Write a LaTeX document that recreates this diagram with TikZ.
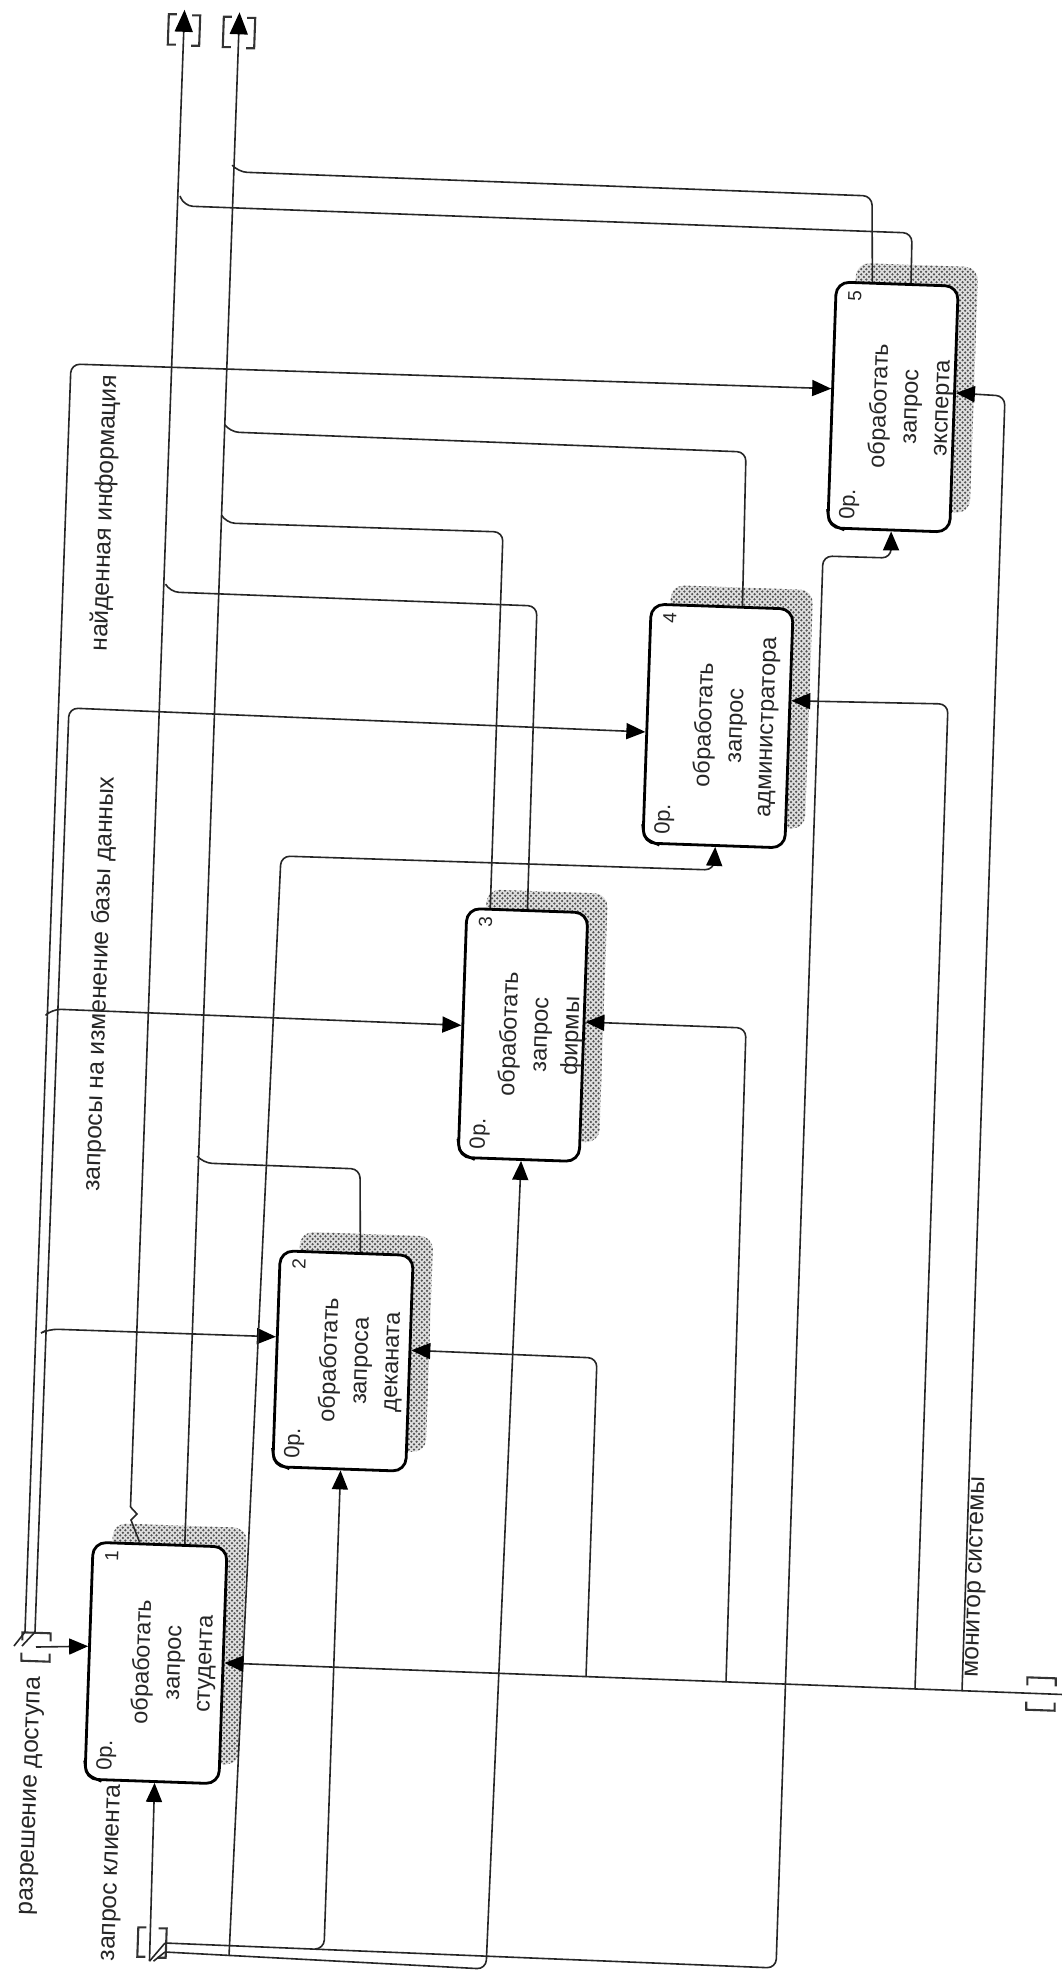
\documentclass[tikz,border=0pt]{standalone}
\usepackage{fontspec}
\setmainfont{Liberation Sans}
\usetikzlibrary{arrows.meta,calc,patterns}
\pgfdeclarepatternformonly{shadowdots}{\pgfqpoint{-1pt}{-1pt}}{\pgfqpoint{6pt}{6pt}}{\pgfqpoint{5.2pt}{5.2pt}}{%
  \pgfpathcircle{\pgfqpoint{0.6pt}{0.6pt}}{1.25pt}
  \pgfpathcircle{\pgfqpoint{3.2pt}{3.2pt}}{1.25pt}
  \pgfusepath{fill}
}
\newcommand{\proc}[7]{% name,cx,cy,h,w,num,text
  \node[shadowbox,minimum width=#4pt,minimum height=#5pt] (s#1) at (#2+20,#3-19) {};
  \node[procbox,minimum width=#4pt,minimum height=#5pt] (#1) at (#2,#3) {};
  \node[boxtext] (t#1) at (#2+18,#3) {#7};
  \node[numtext] (n#1) at ($(#1.north east)+(20,15)$) {#6};
  \node[optext] (o#1) at ($(#1.north west)+(23,-25)$) {0р.};
  \draw[cornerarc] ($(#1.north west)+(1,-20)$) .. controls ($(#1.north west)+(3,-6)$) .. ($(#1.north west)+(18,1)$);
}
\newcommand{\bracketsV}[1]{%
  \draw[tunnelline] ($(#1.north west)+(8,0)$) -- (#1.north west) -- (#1.south west) -- ($(#1.south west)+(8,0)$);
  \draw[tunnelline] ($(#1.north east)+(-8,0)$) -- (#1.north east) -- (#1.south east) -- ($(#1.south east)+(-8,0)$);
}
\newcommand{\bracketsH}[1]{%
  \draw[tunnelline] ($(#1.north west)+(0,8)$) -- (#1.north west) -- (#1.north east) -- ($(#1.north east)+(0,8)$);
  \draw[tunnelline] ($(#1.south west)+(0,-8)$) -- (#1.south west) -- (#1.south east) -- ($(#1.south east)+(0,-8)$);
}
\tikzset{
  procbox/.style={draw=black,line width=2.8pt,rounded corners=13pt,fill=white,rotate=88,inner sep=0pt},
  shadowbox/.style={rounded corners=13pt,rotate=88,inner sep=0pt,preaction={fill=gray!25},pattern=shadowdots,pattern color=black!68},
  boxtext/.style={rotate=88,align=center,font=\fontsize{23.5}{31}\selectfont,text=black!85,inner sep=0pt},
  numtext/.style={rotate=88,font=\fontsize{19}{19}\selectfont,text=black!85,inner sep=0pt},
  optext/.style={rotate=88,font=\fontsize{22}{22}\selectfont,text=black!85,inner sep=0pt},
  lbl/.style={rotate=88,font=\fontsize{24.6}{25}\selectfont,text=black!85,inner sep=0pt},
  cornerarc/.style={line width=2.4pt,black},
  conn/.style={line width=1.6pt,black!85,rounded corners=9pt},
  arr/.style={conn,-{Triangle[length=19pt,width=16pt,color=black]}},
  arrbig/.style={conn,-{Triangle[length=22pt,width=18pt,color=black]}},
  tunnelline/.style={line width=2.1pt,black!80},
  tun/.style={inner sep=0pt,rotate=-2},
}
\begin{document}
\begin{tikzpicture}[x=1pt,y=-1pt]
\useasboundingbox[fill=white] (0,0) rectangle (1062,1978);
% processes
\proc{b1}{156}{1663}{237}{134}{1}{обработать\\запрос\\студента}
\proc{b2}{343}{1361}{216}{133}{2}{обработать\\запроса\\деканата}
\proc{b3}{523}{1035}{249}{121}{3}{обработать\\запрос\\фирмы}
\proc{b4}{718}{726}{239}{142}{4}{обработать\\запрос\\администратора}
\proc{b5}{893}{407}{246}{122}{5}{обработать\\запрос\\эксперта}
% attachment points
\coordinate (b1l) at ($(b1.north east)!.44!(b1.north west)$);
\coordinate (b1r) at ($(b1.south east)!.49!(b1.south west)$);
\coordinate (b1b) at ($(b1.north west)!.52!(b1.south west)$);
\coordinate (b1t1) at ($(b1.north east)!.35!(b1.south east)$);
\coordinate (b1t2) at ($(b1.north east)!.68!(b1.south east)$);
\coordinate (b2l) at ($(b2.north east)!.40!(b2.north west)$);
\coordinate (b2r) at ($(b2.south east)!.44!(b2.south west)$);
\coordinate (b2b) at ($(b2.north west)!.51!(b2.south west)$);
\coordinate (b2t) at ($(b2.north east)!.60!(b2.south east)$);
\coordinate (b3l) at ($(b3.north east)!.47!(b3.north west)$);
\coordinate (b3r) at ($(b3.south east)!.44!(b3.south west)$);
\coordinate (b3b) at ($(b3.north west)!.52!(b3.south west)$);
\coordinate (b3t1) at ($(b3.north east)!.20!(b3.south east)$);
\coordinate (b3t2) at ($(b3.north east)!.50!(b3.south east)$);
\coordinate (b4l) at ($(b4.north east)!.535!(b4.north west)$);
\coordinate (b4r) at ($(b4.south east)!.385!(b4.south west)$);
\coordinate (b4b) at ($(b4.north west)!.51!(b4.south west)$);
\coordinate (b4t) at ($(b4.north east)!.64!(b4.south east)$);
\coordinate (b5l) at ($(b5.north east)!.435!(b5.north west)$);
\coordinate (b5r) at ($(b5.south east)!.435!(b5.south west)$);
\coordinate (b5b) at ($(b5.north west)!.52!(b5.south west)$);
\coordinate (b5t1) at ($(b5.north east)!.30!(b5.south east)$);
\coordinate (b5t2) at ($(b5.north east)!.61!(b5.south east)$);
% tunnels
\node[tun,minimum width=31pt,minimum height=30pt] (tA) at (184,30) {};
\node[tun,minimum width=31pt,minimum height=30pt] (tB) at (239,32.5) {};
\node[tun,minimum width=28pt,minimum height=28pt] (tL) at (36,1647) {};
\node[tun,minimum width=28pt,minimum height=29pt] (tC) at (152,1942.5) {};
\node[tun,minimum width=28pt,minimum height=32pt] (tR) at (1041,1694) {};
\bracketsV{tA}
\bracketsV{tB}
\bracketsH{tL}
\bracketsV{tC}
\bracketsH{tR}
% outputs
\coordinate (sqA) at (130.5,1507);
\draw[arrbig] (sqA) -- ($(tA.north)+(0,-5)$);
\draw[conn,rounded corners=0pt] (sqA) -- (137,1514) -- (131,1520) -- (b1t1);
\draw[arrbig] (b1t2) -- ($(tB.north)+(0,-5)$);
\coordinate (jA5) at (180,196);
\coordinate (jB5) at (233,166);
\coordinate (jB4) at (225,425);
\coordinate (jB3) at (222,516);
\coordinate (jA3) at (166,585);
\coordinate (jB2) at (198,1157);
\draw[conn] (b5t2) -- (912,233) -- (184,206) -- (jA5);
\draw[conn] (b5t1) -- (872,196) -- (238,172) -- (jB5);
\draw[conn] (b4t) -- (746,452) -- (230,432) -- (jB4);
\draw[conn] (b3t1) -- (503,532) -- (226,523) -- (jB3);
\draw[conn] (b3t2) -- (537,606) -- (170,592) -- (jA3);
\draw[conn] (b2t) -- (360,1169) -- (203,1163) -- (jB2);
% control trunks
\coordinate (sqL1) at (25,1632);
\coordinate (sqL2) at (35,1632);
\coordinate (jL3) at (49,1012);
\coordinate (jL2) at (47,1330);
\draw[arr] (sqL1) -- (71,364) -- (b5l);
\draw[arr] (sqL2) -- (69,708) -- (b4l);
\draw[arr] (jL3) -- (52,1009) -- (b3l);
\draw[arr] (jL2) -- (49,1329) -- (b2l);
\draw[conn,rounded corners=0pt] (sqL1) -- (14,1646);
\draw[conn,rounded corners=0pt] (sqL2) -- (22,1646);
\draw[arr] (tL.center) -- (b1l);
% inputs from the bottom tunnel
\coordinate (sqC1) at (165,1943);
\coordinate (sqC2) at (165,1952);
\draw[arr] ($(tC.south)+(-2,4)$) -- (b1b);
\draw[conn,rounded corners=0pt] ($(tC.south)+(-2,4)$) -- (sqC1);
\draw[conn,rounded corners=0pt] ($(tC.south)+(2,4)$) -- (sqC2);
\coordinate (jC2) at (316,1949);
\coordinate (jC4) at (229,1956);
\draw[arr] (sqC1) -- (776,1968) -- (823,556) -- (891,558) -- (b5b);
\draw[arr] (sqC2) -- (486,1969) -- (b3b);
\draw[arr] (jC2) -- (324,1949) -- (b2b);
\draw[arr] (jC4) -- (281,856) -- (714,870) -- (b4b);
% mechanism bus
\coordinate (jR2) at (586,1677);
\coordinate (jR3) at (726,1682);
\coordinate (jR4) at (915,1689);
\coordinate (jR5) at (962,1691);
\draw[arr] ($(tR.east)+(8,0)$) -- (b1r);
\draw[arr] (jR2) -- (597,1358) -- (b2r);
\draw[arr] (jR3) -- (746,1028) -- (b3r);
\draw[arr] (jR4) -- (948,704) -- (b4r);
\draw[arr] (jR5) -- (1005,396) -- (b5r);
% labels
\node[lbl] (l1) at (32,1796) {разрешение доступа};
\node[lbl] (l2) at (113,1873) {запрос клиента};
\node[lbl] (l3) at (100,984) {запросы на изменение базы данных};
\node[lbl] (l4) at (105,513) {найденная информация};
\node[lbl] (l5) at (977,1577) {монитор системы};
\end{tikzpicture}
\end{document}
